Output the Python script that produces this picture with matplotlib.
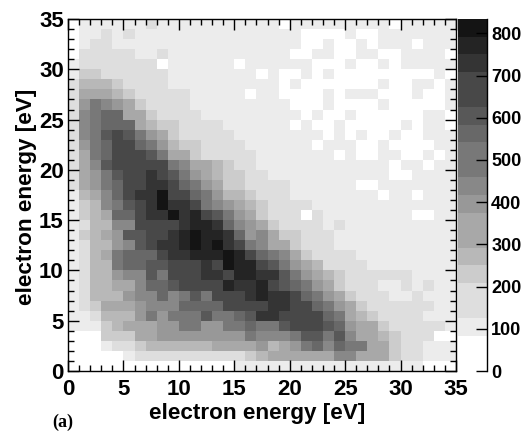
import matplotlib
matplotlib.use('Agg')
import matplotlib.pyplot as plt
from matplotlib.colors import BoundaryNorm, ListedColormap
from matplotlib.ticker import MultipleLocator
import numpy as np

plt.rcParams['font.family'] = ['Liberation Sans', 'DejaVu Sans']
plt.rcParams['font.weight'] = 'bold'

# counts per 1 eV bin, first row is the top of the plot (34-35 eV)
counts = [
    [0,105,105,105,105,105,105,165,105,105,105,105,105,105,105,105,105,105,105,0,105,105,105,105,105,105,105,105,105,0,105,105,105,105,105],
    [0,105,105,165,105,165,105,105,105,105,105,105,105,105,105,105,105,105,105,105,105,0,0,0,0,105,0,0,105,105,105,105,105,105,105],
    [0,105,165,165,105,105,105,105,105,105,105,105,105,105,105,105,105,105,105,105,105,0,0,105,0,0,105,0,105,105,105,0,105,105,105],
    [0,165,165,165,165,165,105,105,165,105,105,105,105,105,105,105,105,105,105,105,0,0,105,105,0,0,105,105,0,0,105,105,105,105,0],
    [105,165,165,165,165,165,165,165,0,105,105,105,105,105,105,0,105,105,105,105,105,105,0,0,0,105,0,0,105,0,105,105,105,105,105],
    [105,230,230,165,165,165,165,165,165,105,105,105,105,105,105,105,105,0,105,0,0,105,0,105,0,0,0,0,0,0,0,0,0,105,0],
    [165,270,270,270,230,165,165,165,165,105,105,105,105,105,105,105,105,105,105,0,105,0,0,0,0,0,0,0,105,0,0,105,105,0,105],
    [165,330,330,330,270,230,165,165,165,165,165,105,105,105,105,105,0,105,105,0,0,0,0,105,0,105,105,105,0,0,0,105,0,0,105],
    [165,395,500,440,395,330,230,165,165,165,165,105,105,105,105,105,105,105,105,105,0,0,0,105,0,0,0,0,105,0,0,0,0,0,105],
    [165,440,500,565,565,330,330,230,165,165,165,165,105,105,105,105,105,105,105,105,105,0,105,0,0,105,0,0,0,0,0,0,105,105,0],
    [165,440,500,565,565,565,330,270,230,230,165,165,165,165,105,105,105,105,105,105,0,105,0,0,105,0,0,0,0,0,105,0,105,105,0],
    [165,440,500,605,680,605,500,395,330,230,165,165,165,165,165,105,105,105,105,105,105,105,105,0,105,0,105,0,0,105,0,0,105,105,105],
    [165,395,500,565,680,680,565,500,395,270,230,230,165,165,165,165,105,105,105,105,105,105,0,105,105,105,0,0,105,0,0,0,0,105,105],
    [165,330,500,565,680,680,680,605,500,330,330,230,165,165,165,165,165,105,105,105,105,105,105,105,0,105,0,0,105,105,0,0,105,0,105],
    [165,330,440,605,680,680,680,680,680,500,440,330,330,270,230,165,165,105,105,105,105,105,105,105,105,105,105,105,105,0,105,105,0,105,105],
    [165,330,395,500,605,680,680,730,680,605,500,395,330,270,230,230,165,165,105,105,105,105,105,105,105,105,105,105,105,0,0,105,105,105,105],
    [165,330,395,500,565,680,680,730,730,680,565,500,395,330,230,230,165,165,165,165,105,105,105,105,105,105,0,0,105,105,105,105,105,105,105],
    [105,270,330,440,565,680,730,730,815,680,680,565,500,395,270,270,230,165,165,165,105,105,105,105,105,105,105,105,0,105,105,0,105,105,105],
    [105,230,270,440,500,605,680,730,815,730,730,680,500,440,395,330,270,230,165,165,165,165,105,105,105,105,105,105,105,105,105,105,105,105,105],
    [105,230,270,330,565,565,680,730,730,815,730,770,680,605,500,395,330,230,165,165,165,0,165,105,105,105,105,105,105,105,105,0,0,105,105],
    [105,165,270,270,440,440,680,680,680,680,730,770,770,730,565,440,395,330,230,165,165,165,165,105,165,105,105,105,105,105,105,105,105,105,105],
    [105,230,270,330,395,605,605,680,680,730,770,815,770,770,730,565,395,440,330,230,230,165,165,165,105,105,105,105,105,105,105,105,105,105,105],
    [105,165,270,270,395,440,605,680,730,730,770,815,770,815,730,680,500,440,330,330,230,165,165,165,105,105,105,105,105,105,105,105,105,105,105],
    [105,165,270,330,500,565,565,565,680,730,730,770,770,770,815,770,680,565,500,440,330,230,165,165,165,165,105,105,105,105,105,105,105,105,105],
    [105,165,270,270,500,565,565,605,605,680,680,680,730,680,815,770,770,680,605,500,395,330,270,165,165,165,165,105,105,105,105,105,105,105,105],
    [105,165,270,270,395,440,440,605,500,680,680,680,730,730,680,770,770,730,730,605,500,395,330,270,230,165,165,165,165,165,165,105,105,105,105],
    [105,165,270,270,330,330,440,565,565,605,680,680,680,680,770,730,730,770,680,605,565,500,395,330,230,165,165,165,105,105,165,105,165,105,105],
    [105,165,270,270,270,395,440,440,565,440,500,605,500,680,680,680,730,770,730,730,680,565,500,395,330,230,165,165,165,105,105,165,105,105,105],
    [105,165,230,330,330,330,395,440,440,440,565,565,565,565,680,680,680,680,730,730,680,680,565,500,395,330,230,165,165,165,165,165,165,105,105],
    [105,105,165,270,270,270,395,500,395,500,500,500,605,500,500,565,605,730,730,680,680,680,680,565,500,330,270,230,165,165,165,165,105,105,105],
    [105,105,105,230,270,330,330,330,395,395,500,500,395,395,500,500,565,500,500,605,680,680,680,605,565,395,330,330,230,165,165,165,165,165,105],
    [0,0,0,230,230,230,330,330,395,395,395,395,395,395,395,395,500,440,440,440,500,605,605,500,605,440,330,330,270,230,165,165,165,0,0],
    [0,0,0,105,165,165,230,270,270,270,270,270,270,330,330,330,330,395,270,330,395,500,565,440,565,500,500,330,330,230,165,165,105,105,105],
    [0,0,0,0,0,105,165,165,165,165,165,165,165,165,165,165,230,270,330,330,330,330,330,330,440,440,330,330,330,230,165,165,105,105,105],
    [0,0,0,0,0,0,0,0,0,0,0,0,0,0,0,105,105,105,105,105,105,105,105,105,105,105,105,105,105,105,105,105,0,0,0],
]

energy_ticks = [0, 5, 10, 15, 20, 25, 30, 35]
energy_labels = ['0', '5', '10', '15', '20', '25', '30', '35']
bar_ticks = [0, 100, 200, 300, 400, 500, 600, 700, 800]
bar_labels = ['0', '100', '200', '300', '400', '500', '600', '700', '800']
axis_label = 'electron energy [eV]'
band_greys = ['#ffffff', '#ffffff', '#ececec', '#dedede', '#dedede', '#cccccc', '#b8b8b8',
              '#a8a8a8', '#a8a8a8', '#989898', '#888888', '#787878', '#787878', '#686868',
              '#585858', '#484848', '#484848', '#343434', '#242424', '#141414']
zmax = 834

W, H = 526, 432
fig = plt.figure(figsize=(W / 100, H / 100), dpi=100)
ax = fig.add_axes([68 / W, 1 - 371 / H, 388 / W, 352 / H])
cax = fig.add_axes([458 / W, 1 - 371 / H, 29 / W, 352 / H])

edges = np.arange(36)
levels = np.linspace(0, zmax, len(band_greys) + 1)
cmap = ListedColormap(band_greys)
norm = BoundaryNorm(levels, cmap.N)

ax.pcolormesh(edges, edges, np.flipud(np.array(counts)), cmap=cmap, norm=norm)
ax.set_xlim(0, 35)
ax.set_ylim(0, 35)
ax.xaxis.set_minor_locator(MultipleLocator(1))
ax.yaxis.set_minor_locator(MultipleLocator(1))
ax.set_xticks(energy_ticks, energy_labels)
ax.set_yticks(energy_ticks, energy_labels)
ax.tick_params(which='major', direction='in', length=8, width=1, top=True, right=True, labelsize=16)
ax.tick_params(which='minor', direction='in', length=4, width=1, top=True, right=True)
ax.tick_params(axis='x', which='major', pad=6)
ax.tick_params(axis='y', which='major', pad=3)
for s in ax.spines.values():
    s.set_linewidth(1)

cax.pcolormesh([0, 1], levels, np.array(levels[:-1] + 1).reshape(-1, 1), cmap=cmap, norm=norm)
cax.set_xlim(0, 1)
cax.set_ylim(0, zmax)
cax.set_xticks([])
cax.yaxis.tick_right()
cax.set_yticks(bar_ticks, bar_labels)
cax.tick_params(axis='y', direction='in', length=8, width=1, labelsize=13, pad=3)
for name in ['top', 'left', 'bottom']:
    cax.spines[name].set_visible(False)
cax.spines['right'].set_linewidth(1)

fig.text(257.5 / W, 1 - 413 / H, axis_label, fontsize=16.2, ha='center', va='center')
fig.text(27 / W, 1 - 197 / H, axis_label, fontsize=16.2, ha='center', va='center', rotation=90)
fig.text(52 / W, 1 - 422 / H, '(a)', fontsize=13, family='Liberation Serif', va='center')

fig.savefig('out.png', dpi=100)
